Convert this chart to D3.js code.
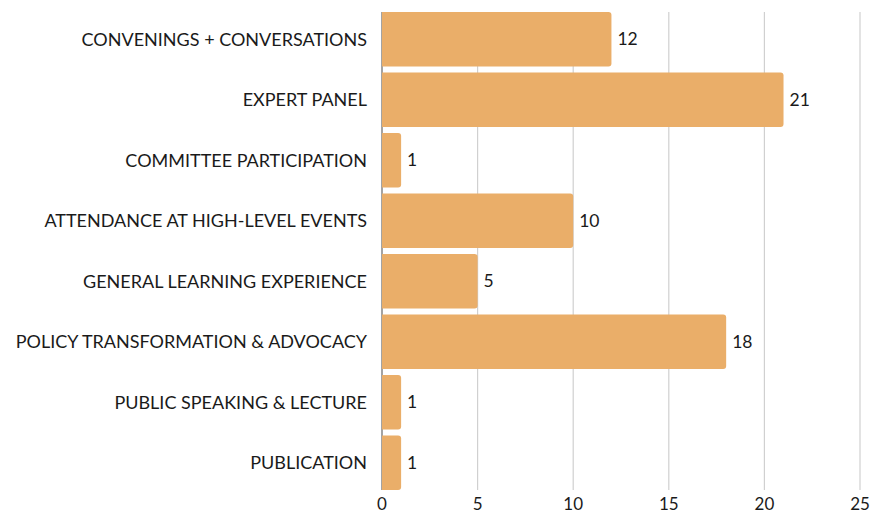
<!DOCTYPE html>
<html><head><meta charset="utf-8">
<script src="https://cdn.jsdelivr.net/npm/d3@7"></script>
<style>body{margin:0;background:#fff;} text{font-family:Lato, "Open Sans", sans-serif;}</style>
</head><body><svg id="c" width="874" height="514"></svg>
<script>
const categories = ["CONVENINGS + CONVERSATIONS","EXPERT PANEL","COMMITTEE PARTICIPATION","ATTENDANCE AT HIGH-LEVEL EVENTS","GENERAL LEARNING EXPERIENCE","POLICY TRANSFORMATION & ADVOCACY","PUBLIC SPEAKING & LECTURE","PUBLICATION"];
const values = [12,21,1,10,5,18,1,1];
const ticks = [0,5,10,15,20,25];

const svg = d3.select("#c");
const x = d3.scaleLinear().domain([0,25]).range([382,860]);
const y = d3.scaleBand().domain(categories).range([12,490]).paddingInner(0.1).paddingOuter(0);

svg.append("g").selectAll("line").data(ticks).join("line")
  .attr("x1",d=>x(d)).attr("x2",d=>x(d)).attr("y1",12).attr("y2",490)
  .attr("stroke",d=>d===0?"#666":"#d0d0d0").attr("stroke-width",1.2);

const r = 3;
svg.append("g").selectAll("path").data(values).join("path")
  .attr("fill","#eaae69")
  .attr("d",(d,i)=>{
    const x0=x(0), x1=x(d), y0=y(categories[i]), h=y.bandwidth();
    const rr=Math.min(r,(x1-x0)/2);
    return `M${x0},${y0}H${x1-rr}Q${x1},${y0} ${x1},${y0+rr}V${y0+h-rr}Q${x1},${y0+h} ${x1-rr},${y0+h}H${x0}Z`;
  });

svg.append("g").selectAll("text").data(values).join("text")
  .attr("x",d=>x(d)+6).attr("y",(d,i)=>y(categories[i])+y.bandwidth()/2)
  .attr("dy","0.35em").attr("font-size",17.5).attr("fill","#1a1a1a").text(d=>d);

svg.append("g").selectAll("text").data(categories).join("text")
  .attr("x",367).attr("y",d=>y(d)+y.bandwidth()/2).attr("dy","0.35em")
  .attr("text-anchor","end").attr("font-size",18).attr("fill","#1a1a1a").text(d=>d);

svg.append("g").selectAll("text").data(ticks).join("text")
  .attr("x",d=>x(d)).attr("y",504).attr("dy","0.35em").attr("text-anchor","middle")
  .attr("font-size",17).attr("fill","#1a1a1a").text(d=>d);
</script></body></html>
